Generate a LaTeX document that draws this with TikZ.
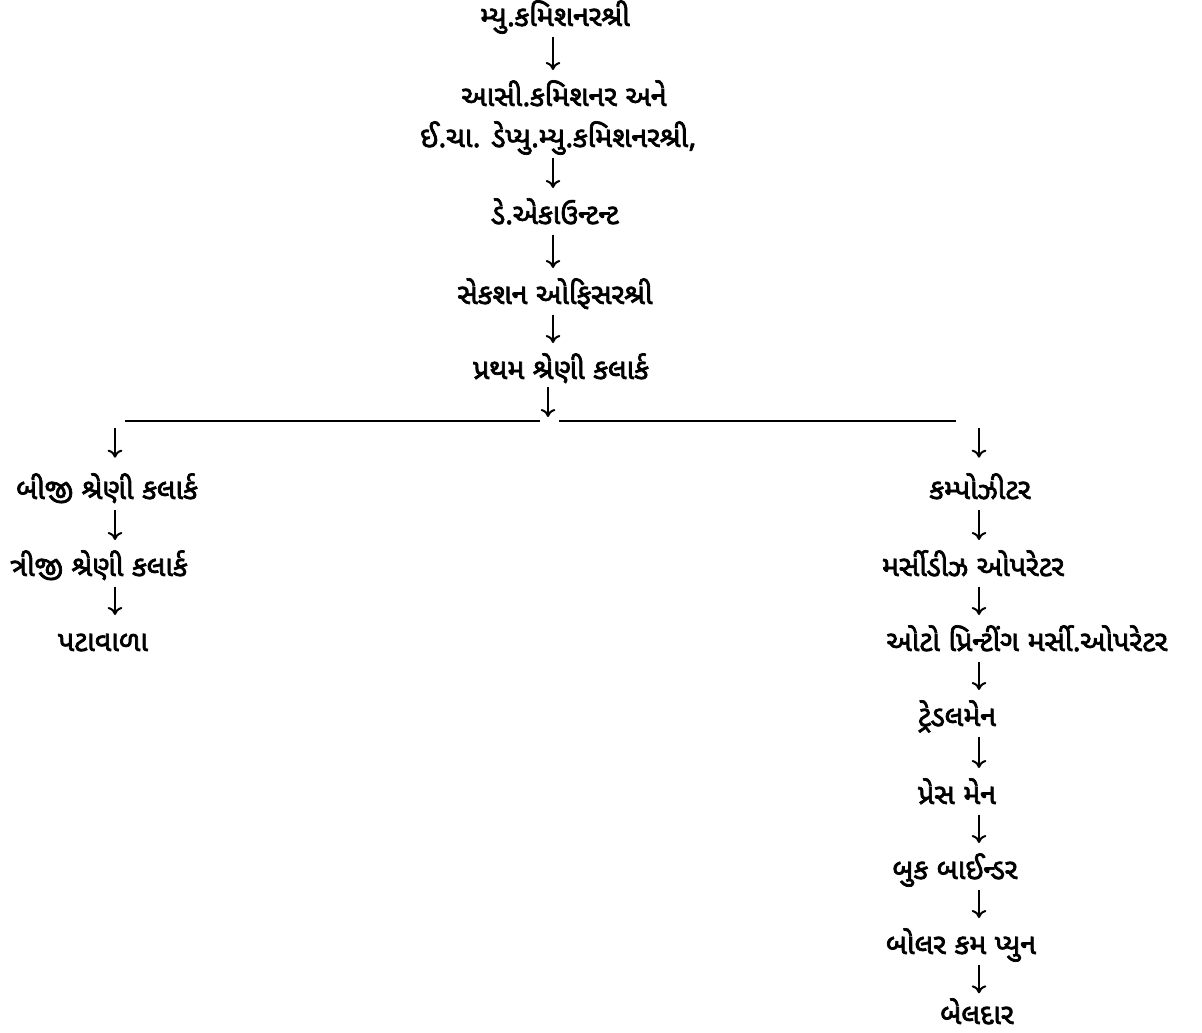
\documentclass[tikz,border=0pt]{standalone}
\usepackage{fontspec}
\newfontfamily\gujfont[Script=Gujarati,FakeBold=2.5]{Noto Sans Gujarati UI}
\usetikzlibrary{arrows.meta}

\begin{document}
\begin{tikzpicture}[x=0.75pt, y=-0.75pt,
  post/.style={font=\gujfont\fontsize{21.5}{24}\selectfont, inner sep=0pt, anchor=base},
  down/.style={line width=1.5pt, -{To[length=6pt,width=11pt,line width=1.5pt]},
    shorten <=8pt, shorten >=27pt}]
  \path[use as bounding box] (0,0) rectangle (1202,1032);
  % columns of the arrows
  \coordinate (ct) at (553,0);
  \coordinate (lc) at (115,0);
  \coordinate (rc) at (979,0);
  % top chain
  \node[post] (mc)   at (555,26)  {મ્યુ.કમિશનરશ્રી};
  \node[post] (ac)   at (564,106) {આસી.કમિશનર અને};
  \node[post] (dmc)  at (558,147) {ઈ.ચા. ડેપ્યુ.મ્યુ.કમિશનરશ્રી,};
  \node[post] (dacc) at (555,224) {ડે.એકાઉન્ટન્ટ};
  \node[post] (so)   at (555,304) {સેકશન ઓફિસરશ્રી};
  \node[post] (fc)   at (561,379) {પ્રથમ શ્રેણી કલાર્ક};
  \draw[down] (mc.base -| ct) -- (ac.base -| ct);
  \draw[down] (dmc.base -| ct) -- (dacc.base -| ct);
  \draw[down] (dacc.base -| ct) -- (so.base -| ct);
  \draw[down] (so.base -| ct) -- (fc.base -| ct);
  % branch
  \coordinate (jn) at (548,421);
  \coordinate (jl) at (125,421);
  \coordinate (jr) at (956,421);
  \draw[down, shorten <=6pt, shorten >=3pt] (fc.base -| jn) -- (jn);
  \draw[line width=1.6pt, shorten >=6pt] (jl) -- (jn);
  \draw[line width=1.6pt, shorten <=8pt] (jn) -- (jr);
  % left chain
  \node[post] (sc)   at (107,499) {બીજી શ્રેણી કલાર્ક};
  \node[post] (tc)   at (99,576)  {ત્રીજી શ્રેણી કલાર્ક};
  \node[post] (peon) at (103,651) {પટાવાળા};
  \draw[down, shorten <=5pt, shorten >=31pt] (jl -| lc) -- (sc.base -| lc);
  \draw[down] (sc.base -| lc) -- (tc.base -| lc);
  \draw[down] (tc.base -| lc) -- (peon.base -| lc);
  % right chain
  \node[post] (comp) at (980,499)  {કમ્પોઝીટર};
  \node[post] (mo)   at (973,576)  {મર્સીડીઝ ઓપરેટર};
  \node[post] (apo)  at (1027,651) {ઓટો પ્રિન્ટીંગ મર્સી.ઓપરેટર};
  \node[post] (tm)   at (957,726)  {ટ્રેડલમેન};
  \node[post] (pm)   at (957,804)  {પ્રેસ મેન};
  \node[post] (bb)   at (955,879)  {બુક બાઈન્ડર};
  \node[post] (bp)   at (961,954)  {બોલર કમ પ્યુન};
  \node[post] (bel)  at (977,1024) {બેલદાર};
  \draw[down, shorten <=5pt, shorten >=31pt] (jr -| rc) -- (comp.base -| rc);
  \draw[down] (comp.base -| rc) -- (mo.base -| rc);
  \draw[down] (mo.base -| rc) -- (apo.base -| rc);
  \draw[down] (apo.base -| rc) -- (tm.base -| rc);
  \draw[down] (tm.base -| rc) -- (pm.base -| rc);
  \draw[down] (pm.base -| rc) -- (bb.base -| rc);
  \draw[down] (bb.base -| rc) -- (bp.base -| rc);
  \draw[down, shorten >=23pt] (bp.base -| rc) -- (bel.base -| rc);
\end{tikzpicture}
\end{document}
